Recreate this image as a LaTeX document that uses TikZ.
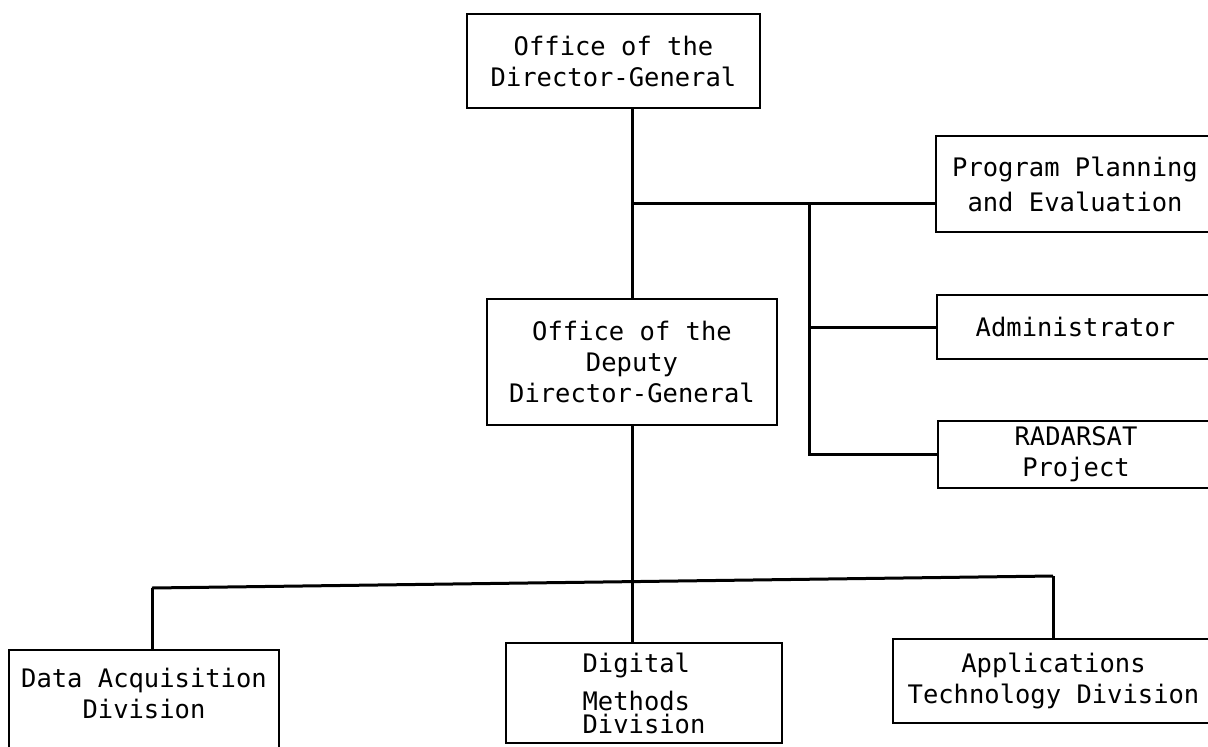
\documentclass[tikz,border=0pt]{standalone}
\usepackage{fontspec}
\setmonofont{DejaVu Sans Mono}
\usetikzlibrary{positioning,calc}

\begin{document}
\begin{tikzpicture}[
	x=1pt, y=-1pt,
	box/.style={
		draw,
		line width=2.8pt,
		inner sep=0pt,
		align=center,
		font=\ttfamily\fontsize{25.5}{31}\selectfont
	},
	lbl/.style={
		inner sep=0pt,
		align=center,
		font=\ttfamily\fontsize{25.5}{31}\selectfont
	},
	link/.style={line width=3pt}
	]
	
	\clip (0,0) rectangle (1208,747);
	
	% head office and deputy
	\node[box, minimum width=293pt, minimum height=94pt] (dg) at (613.5,61) {Office of the\\Director-General};
	\node[box, minimum width=290pt, minimum height=126pt] (ddg) at (632,362) {Office of the\\Deputy\\Director-General};
	
	% staff units on the right
	\node[box, minimum width=278pt, minimum height=96pt] (ppe) at (1075,184) {Program Planning\\[4pt]and Evaluation};
	\node[box, minimum width=277pt, minimum height=64pt] (adm) at (1075.5,327) {Administrator};
	\node[box, minimum width=276pt, minimum height=67pt] (rad) at (1076,454.5) {RADARSAT\\Project};
	
	% divisions
	\node[box, minimum width=270pt, minimum height=120pt] (dad) at (144,710) {};
	\node[lbl] (dadtext) at (144,693) {Data Acquisition\\Division};
	\node[box, align=left, minimum width=276pt, minimum height=100pt] (dmd) at (644,693) {Digital\\[7pt]Methods\\[-8pt]Division};
	\node[box, minimum width=321pt, minimum height=84pt] (atd) at (1053.5,681) {Applications\\Technology Division};
	
	\coordinate (top) at (632,203);
	\coordinate (side) at (809,203);
	\coordinate (busl) at (152,588);
	\coordinate (busr) at (1053,576);
	
	\draw[link] (dg.south -| top) -- (ddg.north -| top);
	\draw[link] (top) -- (ppe.west |- top);
	\draw[link] (side) |- (rad.west);
	\draw[link] (side |- adm.west) -- (adm.west);
	
	\draw[link] (ddg.south) -- (ddg.south |- dmd.north);
	\draw[link] (busl) -- (busr);
	\draw[link] (busl) -- (busl |- dad.north);
	\draw[link] (busr) -- (busr |- atd.north);
	
\end{tikzpicture}
\end{document}
